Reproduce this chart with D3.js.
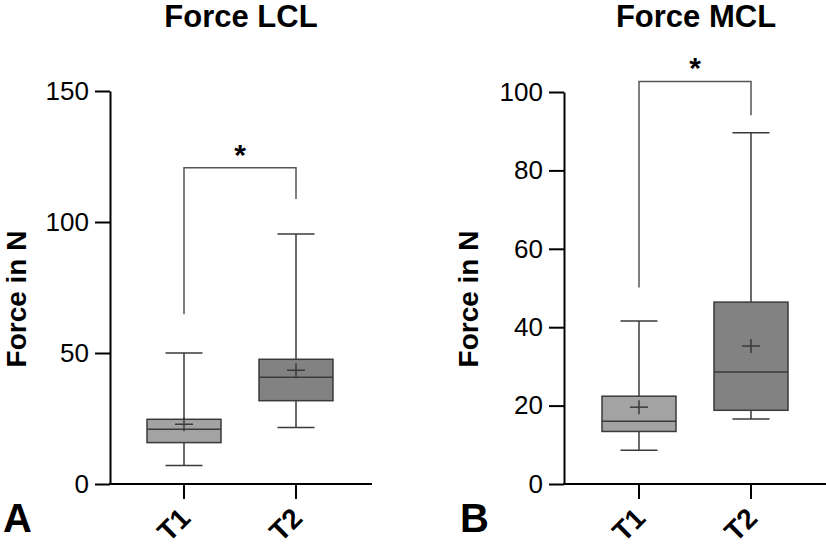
<!DOCTYPE html>
<html><head><meta charset="utf-8">
<script src="https://cdn.jsdelivr.net/npm/d3@7"></script>
<style>body{margin:0;background:#fff}svg{display:block}text{font-family:"Liberation Sans",Arial,sans-serif}</style>
</head><body>
<svg id="c" width="826" height="546"></svg>
<script>
const groups = ["T1", "T2"];
// Panel A: Force LCL
const lclMin    = [7.1, 21.6];
const lclQ1     = [15.8, 31.8];
const lclMedian = [20.9, 40.7];
const lclQ3     = [24.7, 47.6];
const lclMax    = [50.0, 95.4];
const lclMean   = [22.8, 43.4];
const lclTicks  = [0, 50, 100, 150];
const lclBracket = [64.8, 120.7, 108.8]; // left leg end, top, right leg end
// Panel B: Force MCL
const mclMin    = [8.6, 16.6];
const mclQ1     = [13.4, 18.8];
const mclMedian = [16.0, 28.6];
const mclQ3     = [22.4, 46.4];
const mclMax    = [41.6, 89.6];
const mclMean   = [19.6, 35.2];
const mclTicks  = [0, 20, 40, 60, 80, 100];
const mclBracket = [50.1, 102.7, 94.1];
const fills = ["#a3a3a3", "#828282"];

const svg = d3.select("#c");

function panel(o) {
  const g = svg.append("g");
  const y = d3.scaleLinear().domain(o.domain).range([484, o.yTop]);
  const x = d3.scalePoint().domain(groups).range([o.x1, o.x2]);
  const bw = 74;

  // title
  g.append("text").attr("x", o.titleX).attr("y", 27).attr("text-anchor", "middle")
    .attr("font-size", 31).attr("font-weight", "bold").text(o.title);
  // y label
  g.append("text").attr("transform", `translate(${o.ylabX},299) rotate(-90)`).attr("text-anchor", "middle")
    .attr("font-size", 28).attr("font-weight", "bold").text("Force in N");
  // panel letter
  g.append("text").attr("x", o.letterX).attr("y", 532).attr("font-size", 40).attr("font-weight", "bold").text(o.letter);

  // y axis
  const ya = g.append("g").attr("transform", `translate(${o.axisX},0)`)
    .call(d3.axisLeft(y).tickValues(o.ticks).tickSize(15).tickPadding(6).tickSizeOuter(0));
  ya.select(".domain").attr("stroke", "#000").attr("stroke-width", 2);
  ya.selectAll(".tick line").attr("stroke", "#000").attr("stroke-width", 2);
  ya.selectAll("text").attr("font-size", 26).attr("font-family", "Liberation Sans, Arial, sans-serif").attr("fill", "#000");

  // x axis
  g.append("line").attr("x1", o.axisX - 1).attr("x2", o.axisEnd).attr("y1", y(0)).attr("y2", y(0))
    .attr("stroke", "#000").attr("stroke-width", 2);
  groups.forEach(k => {
    g.append("line").attr("x1", x(k)).attr("x2", x(k)).attr("y1", y(0)).attr("y2", y(0) + 15)
      .attr("stroke", "#000").attr("stroke-width", 2);
    g.append("text").attr("transform", `translate(${x(k) + 8},${y(0) + 36}) rotate(-45)`)
      .attr("text-anchor", "end").attr("font-size", 28).attr("font-weight", "bold").text(k);
  });

  const st = "#3a3a3a";
  groups.forEach((k, i) => {
    const cx = x(k);
    // whiskers
    g.append("line").attr("x1", cx).attr("x2", cx).attr("y1", y(o.max[i])).attr("y2", y(o.q3[i])).attr("stroke", st).attr("stroke-width", 1.5);
    g.append("line").attr("x1", cx).attr("x2", cx).attr("y1", y(o.q1[i])).attr("y2", y(o.min[i])).attr("stroke", st).attr("stroke-width", 1.5);
    [o.max[i], o.min[i]].forEach(v => g.append("line").attr("x1", cx - bw / 4).attr("x2", cx + bw / 4)
      .attr("y1", y(v)).attr("y2", y(v)).attr("stroke", st).attr("stroke-width", 1.5));
    // box
    g.append("rect").attr("x", cx - bw / 2).attr("width", bw).attr("y", y(o.q3[i])).attr("height", y(o.q1[i]) - y(o.q3[i]))
      .attr("fill", fills[i]).attr("stroke", st).attr("stroke-width", 1.5);
    g.append("line").attr("x1", cx - bw / 2).attr("x2", cx + bw / 2).attr("y1", y(o.median[i])).attr("y2", y(o.median[i]))
      .attr("stroke", st).attr("stroke-width", 1.5);
    // mean +
    const my = y(o.mean[i]);
    g.append("line").attr("x1", cx - 9).attr("x2", cx + 9).attr("y1", my).attr("y2", my).attr("stroke", st).attr("stroke-width", 1.5);
    g.append("line").attr("x1", cx).attr("x2", cx).attr("y1", my - 7).attr("y2", my + 7).attr("stroke", st).attr("stroke-width", 1.5);
  });

  // significance bracket
  const b = o.bracket;
  g.append("path").attr("d", `M${x("T1")},${y(b[0])}V${y(b[1])}H${x("T2")}V${y(b[2])}`)
    .attr("fill", "none").attr("stroke", "#555").attr("stroke-width", 1.5);
  g.append("text").attr("x", (x("T1") + x("T2")) / 2).attr("y", y(b[1]) - 3).attr("text-anchor", "middle")
    .attr("font-size", 30).attr("font-weight", "bold").text("*");
}

panel({title: "Force LCL", titleX: 241, letter: "A", letterX: 3, ylabX: 26, axisX: 110, axisEnd: 372, x1: 184, x2: 296,
  domain: [0, 150], yTop: 91, ticks: lclTicks,
  min: lclMin, q1: lclQ1, median: lclMedian, q3: lclQ3, max: lclMax, mean: lclMean, bracket: lclBracket});
panel({title: "Force MCL", titleX: 696, letter: "B", letterX: 460, ylabX: 478, axisX: 564, axisEnd: 826, x1: 639, x2: 751,
  domain: [0, 100], yTop: 92, ticks: mclTicks,
  min: mclMin, q1: mclQ1, median: mclMedian, q3: mclQ3, max: mclMax, mean: mclMean, bracket: mclBracket});
</script>
</body></html>
